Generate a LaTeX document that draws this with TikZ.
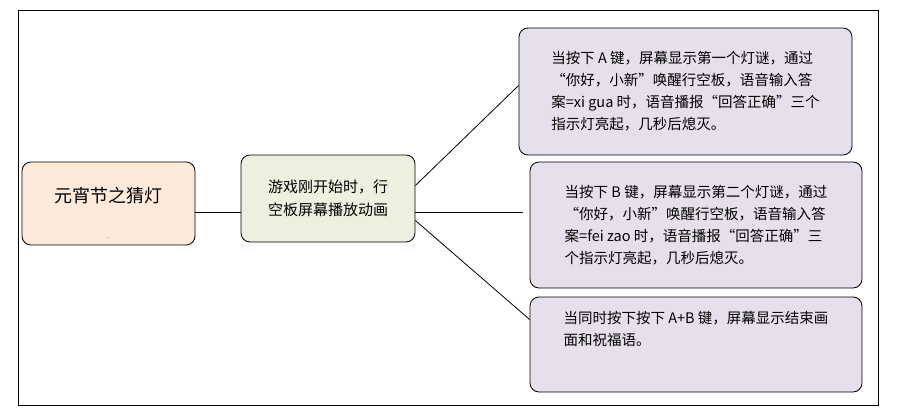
\documentclass[tikz,border=0pt]{standalone}
\usepackage{fontspec}
\setmainfont{Noto Sans CJK SC}
\usetikzlibrary{positioning}
\definecolor{peach}{RGB}{253,234,218}
\definecolor{sage}{RGB}{235,241,222}
\definecolor{lav}{RGB}{229,224,236}
\begin{document}
\begin{tikzpicture}[x=1pt,y=-1pt]
		\tikzstyle{box} = [rectangle, rounded corners=9pt, draw=black, thick, inner sep=0pt]
		\tikzstyle{tip} = [box, fill=lav, minimum width=333pt, align=left, font=\fontsize{14.5}{22}\selectfont]
		\tikzstyle{link} = [thick]
		\useasboundingbox (0,0) rectangle (900,415);
		\draw[thick] (18,10) rectangle (878,405);
		\node (title) [box, fill=peach, minimum width=173pt, minimum height=83pt] at (108.5,203.5) {};
		\node at (108.5,196) {\fontsize{18}{20}\selectfont 元宵节之猜灯};
		\node at (108,238) {\tiny .\,.};
		\node (start) [box, fill=sage, minimum width=174pt, minimum height=87pt, align=left,
			font=\fontsize{15}{23}\selectfont] at (328,198.5) {游戏刚开始时，行\\空板屏幕播放动画};
		\node (keyA) [tip, minimum height=127pt] at (685.5,91.5) {当按下 A 键，屏幕显示第一个灯谜，通过\\“你好，小新”唤醒行空板，语音输入答\\案=xi gua 时，语音播报“回答正确”三个\\指示灯亮起，几秒后熄灭。};
		\node (keyB) [tip, minimum width=332pt, minimum height=126pt] at (696,225) {当按下 B 键，屏幕显示第二个灯谜，通过\\“你好，小新”唤醒行空板，语音输入答\\案=fei zao 时，语音播报“回答正确”三\\个指示灯亮起，几秒后熄灭。};
		\node (keyAB) [tip, minimum width=332pt, minimum height=95pt, text depth=32pt] at (696,344.5) {当同时按下按下 A+B 键，屏幕显示结束画\\面和祝福语。};
		\draw [link] ([yshift=-8.5pt]title.east) -- ([yshift=-13.5pt]start.west);
		\draw [link] ([yshift=13pt]start.east) -- ([yshift=6pt]keyA.west);
		\draw [link] ([yshift=-13.5pt]start.east) -- ([xshift=-7pt,yshift=13pt]keyB.west);
		\draw [link] ([yshift=-22pt]start.east) -- ([yshift=25pt]keyAB.west);
\end{tikzpicture}
\end{document}
